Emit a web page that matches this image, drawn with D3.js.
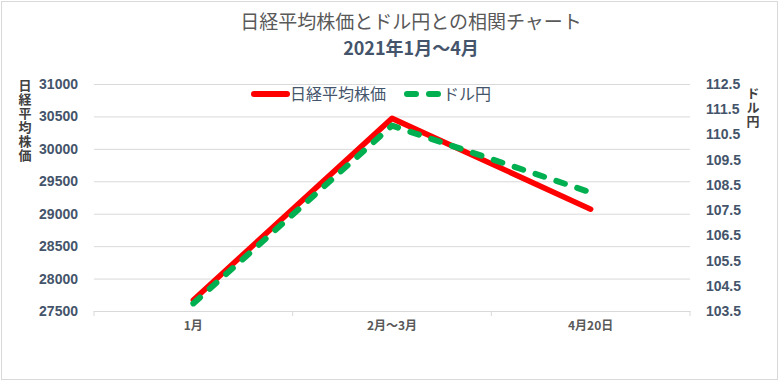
<!DOCTYPE html>
<html>
<head>
<meta charset="utf-8">
<script src="https://cdn.jsdelivr.net/npm/d3@7"></script>
<style>
  body { margin: 0; background: #fff; }
  svg { display: block; font-family: "Liberation Sans", "Noto Sans CJK JP", sans-serif; }
</style>
</head>
<body>
<div id="chart"></div>
<script>
// --- datos ---
const categories = ["1月", "2月～3月", "4月20日"];
const nikkei = [27670, 30470, 29070];
const usdjpy = [103.8, 110.85, 108.2];
const leftTicks = [27500, 28000, 28500, 29000, 29500, 30000, 30500, 31000];
const rightTicks = [103.5, 104.5, 105.5, 106.5, 107.5, 108.5, 109.5, 110.5, 111.5, 112.5];

const W = 779, H = 381;
const plot = { left: 94, right: 690, top: 84, bottom: 311 };
const jp = "'Noto Sans CJK JP', sans-serif";
const labelColor = "#44546a";

const svg = d3.select("#chart").append("svg")
  .attr("width", W).attr("height", H);

// borde del gráfico
svg.append("rect")
  .attr("x", 1.5).attr("y", 1.5).attr("width", W - 3).attr("height", H - 3)
  .attr("fill", "#fff").attr("stroke", "#d9d9d9");

// escalas
const x = d3.scaleBand().domain(categories).range([plot.left, plot.right]);
const yL = d3.scaleLinear().domain([27500, 31000]).range([plot.bottom, plot.top]);
const yR = d3.scaleLinear().domain([103.5, 112.5]).range([plot.bottom, plot.top]);

// eje izquierdo + rejilla
const gL = svg.append("g")
  .attr("transform", `translate(${plot.left},0)`)
  .call(d3.axisLeft(yL).tickValues(leftTicks).tickSize(-(plot.right - plot.left)).tickPadding(16).tickFormat(d3.format("d")));
gL.select(".domain").remove();
gL.selectAll("line").attr("stroke", "#d9d9d9");
gL.selectAll("text")
  .attr("fill", labelColor).style("font-size", "14px").style("font-weight", "bold");

// eje derecho
const gR = svg.append("g")
  .attr("transform", `translate(${plot.right},0)`)
  .call(d3.axisRight(yR).tickValues(rightTicks).tickSize(0).tickPadding(16).tickFormat(d3.format(".1f")));
gR.select(".domain").remove();
gR.selectAll("text")
  .attr("fill", labelColor).style("font-size", "14px").style("font-weight", "bold");

// eje inferior
const gB = svg.append("g")
  .attr("transform", `translate(0,${plot.bottom})`)
  .call(d3.axisBottom(x).tickSize(0).tickPadding(10));
gB.select(".domain").attr("stroke", "#d9d9d9");
gB.selectAll("text")
  .attr("fill", "#595959").style("font-family", jp).style("font-size", "12px").style("font-weight", "bold");
const bounds = categories.map(c => x(c)).concat([x(categories[categories.length - 1]) + x.bandwidth()]);
gB.selectAll(".bound").data(bounds).join("line")
  .attr("x1", d => d).attr("x2", d => d)
  .attr("y1", 0).attr("y2", 5)
  .attr("stroke", "#d9d9d9");

// líneas
const lineL = d3.line().x((d, i) => x(categories[i]) + x.bandwidth() / 2).y(d => yL(d));
const lineR = d3.line().x((d, i) => x(categories[i]) + x.bandwidth() / 2).y(d => yR(d));

svg.append("path").datum(nikkei)
  .attr("d", lineL).attr("fill", "none")
  .attr("stroke", "#ff0000").attr("stroke-width", 5.5)
  .attr("stroke-linejoin", "round").attr("stroke-linecap", "round");

svg.append("path").datum(usdjpy)
  .attr("d", lineR).attr("fill", "none")
  .attr("stroke", "#00b050").attr("stroke-width", 6)
  .attr("stroke-dasharray", "9,13")
  .attr("stroke-linejoin", "round").attr("stroke-linecap", "round");

// título
svg.append("text").attr("x", 411).attr("y", 29)
  .attr("text-anchor", "middle").attr("fill", "#595959")
  .style("font-family", jp).style("font-size", "19px")
  .text("日経平均株価とドル円との相関チャート");
svg.append("text").attr("x", 411).attr("y", 55)
  .attr("text-anchor", "middle").attr("fill", "#44546a")
  .style("font-family", jp).style("font-size", "18px").style("font-weight", "bold")
  .text("2021年1月～4月");

// títulos de ejes (texto vertical)
svg.append("text")
  .attr("x", 25).attr("y", 79)
  .attr("fill", "#404040")
  .style("writing-mode", "vertical-rl").style("text-orientation", "upright")
  .style("font-family", jp).style("font-size", "13px").style("font-weight", "bold")
  .style("letter-spacing", "1px")
  .text("日経平均株価");

svg.append("text")
  .attr("x", 753).attr("y", 87)
  .attr("fill", "#404040")
  .style("writing-mode", "vertical-rl").style("text-orientation", "upright")
  .style("font-family", jp).style("font-size", "13px").style("font-weight", "bold")
  .style("letter-spacing", "1px")
  .text("ドル円");

// leyenda
const legend = svg.append("g");
legend.append("line").attr("x1", 254).attr("x2", 287).attr("y1", 94).attr("y2", 94)
  .attr("stroke", "#ff0000").attr("stroke-width", 6).attr("stroke-linecap", "round");
legend.append("text").attr("x", 290).attr("y", 100)
  .attr("fill", "#44546a").style("font-family", jp).style("font-size", "16px")
  .text("日経平均株価");
legend.append("line").attr("x1", 407).attr("x2", 442).attr("y1", 94).attr("y2", 94)
  .attr("stroke", "#00b050").attr("stroke-width", 6).attr("stroke-linecap", "round")
  .attr("stroke-dasharray", "9,13");
legend.append("text").attr("x", 443).attr("y", 100)
  .attr("fill", "#44546a").style("font-family", jp).style("font-size", "16px")
  .text("ドル円");
</script>
</body>
</html>
